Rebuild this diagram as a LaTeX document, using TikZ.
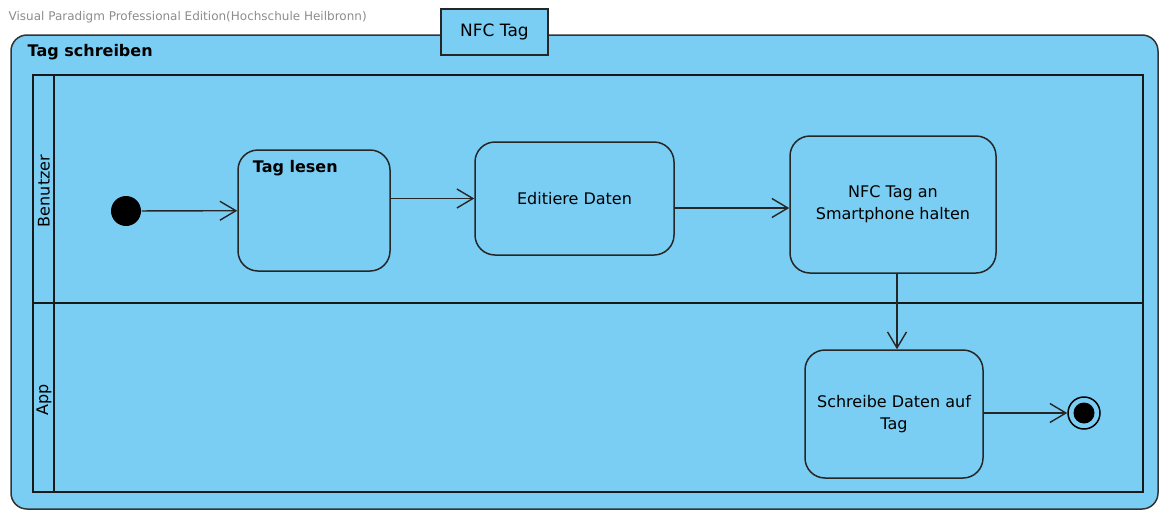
\documentclass[tikz,border=0pt]{standalone}
\usepackage{fontspec}
\setmainfont{DejaVu Sans}
\usetikzlibrary{arrows.meta}
\definecolor{vpblue}{RGB}{122,206,243}
\definecolor{vpgrey}{RGB}{140,140,140}
\begin{document}
\begin{tikzpicture}[x=1pt,y=-1pt,line width=1.4pt,
  state/.style={rectangle,rounded corners=20pt,draw=black!85,fill=vpblue,line width=1.5pt,align=center,font=\fontsize{16}{22}\selectfont},
  flow/.style={-{Straight Barb[length=16pt,width=19pt,line width=1.4pt]},draw=black!85},
  lane/.style={line width=2.8pt,draw=black!90}]
\useasboundingbox (0,0) rectangle (1159,509);

\node at (8,17) [anchor=west,inner sep=0pt,text=vpgrey,font=\fontsize{12}{14}\selectfont] (vpmark) {Visual Paradigm Professional Edition(Hochschule Heilbronn)};

% frame
\draw[fill=vpblue,draw=black!80,line width=1.5pt,rounded corners=16pt] (11,35) rectangle (1158,509);
\node at (494.5,32) [rectangle,draw=black!85,fill=vpblue,line width=1.5pt,minimum width=107pt,minimum height=46pt,font=\fontsize{17}{20}\selectfont] (nfctag) {NFC Tag};
\node at (27,52) [anchor=west,inner sep=0pt,font=\fontsize{16}{18}\selectfont\bfseries] (frametitle) {Tag schreiben};

% swimlanes
\draw[lane] (33,75) rectangle (1143,492);
\draw[lane] (54,75) -- (54,492);
\draw[lane] (33,303) -- (1143,303);
\node at (44,191) [rotate=90,inner sep=0pt,font=\fontsize{16}{18}\selectfont] (benutzer) {Benutzer};
\node at (44,400) [rotate=90,inner sep=0pt,font=\fontsize{16}{18}\selectfont] (app) {App};

% states
\node at (126,211) [circle,fill=black,minimum size=30pt,inner sep=0pt] (start) {};
\node at (314,210.5) [state,minimum width=152pt,minimum height=121pt,
  label={[anchor=north west,xshift=15pt,yshift=-10pt,inner sep=0pt,font=\fontsize{16}{18}\selectfont\bfseries]north west:Tag lesen}] (taglesen) {};
\node at (574.5,198.5) [state,minimum width=199pt,minimum height=113pt] (editiere) {Editiere Daten};
\node at (893,204.5) [state,minimum width=206pt,minimum height=137pt] (halten) {NFC Tag an\\Smartphone halten};
\node at (894,414) [state,minimum width=178pt,minimum height=128pt] (schreibe) {Schreibe Daten auf\\Tag};
\node at (1084,413) [circle,draw=black,fill=vpblue,line width=1.5pt,minimum size=32pt,inner sep=0pt] (ende) {};
\fill (ende) circle (10.5pt);

\draw[flow] (start) -- (taglesen);
\draw[flow] (taglesen.east |- editiere.west) -- (editiere.west);
\draw[flow] ([yshift=-9.5pt]editiere.east) -- ([yshift=-9.5pt]editiere.east -| halten.west);
\draw[flow] ([xshift=4pt]halten.south) -- ([xshift=4pt]halten.south |- schreibe.north);
\draw[flow] (schreibe.east |- ende) -- (ende);
\end{tikzpicture}
\end{document}
